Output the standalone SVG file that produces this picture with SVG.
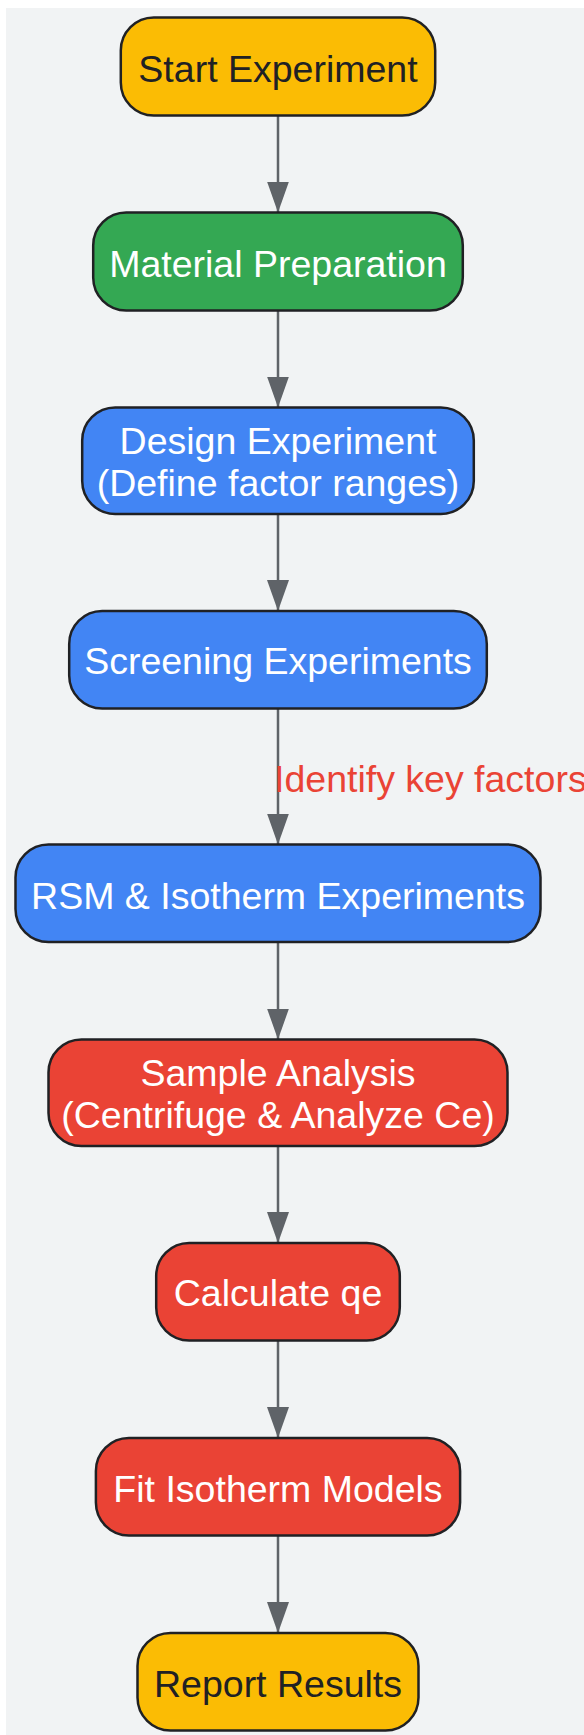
<svg xmlns="http://www.w3.org/2000/svg" width="584" height="1735" viewBox="0 0 584 1735">
  <style>
    .node rect { stroke: #202124; stroke-width: 2.5; }
    .yellow rect { fill: #FBBC04; }
    .green rect { fill: #34A853; }
    .blue rect { fill: #4285F4; }
    .red rect { fill: #EA4335; }
    .node text { font-family: "Liberation Sans", Arial, sans-serif; font-size: 37.5px; text-anchor: middle; fill: #FFFFFF; }
    .yellow text { fill: #202124; }
    .edge { stroke: #5F6368; stroke-width: 2.5; fill: none; }
    .label { font-family: "Liberation Sans", Arial, sans-serif; font-size: 37.5px; fill: #EA4335; }
  </style>
  <defs>
    <marker id="arrow" viewBox="0 0 31 22" refX="31" refY="11" markerWidth="31" markerHeight="22" markerUnits="userSpaceOnUse" orient="auto">
      <path d="M0,0 L31,11 L0,22 Z" fill="#5F6368"/>
    </marker>
  </defs>
  <rect x="6" y="8" width="578" height="1727" fill="#F1F3F4"/>

  <g id="connectors">
    <line class="edge" x1="278" y1="115.5" x2="278" y2="212.5" marker-end="url(#arrow)"/>
    <line class="edge" x1="278" y1="310.5" x2="278" y2="407.5" marker-end="url(#arrow)"/>
    <line class="edge" x1="278" y1="514" x2="278" y2="611" marker-end="url(#arrow)"/>
    <line class="edge" x1="278" y1="708.5" x2="278" y2="844.5" marker-end="url(#arrow)"/>
    <line class="edge" x1="278" y1="942" x2="278" y2="1039.5" marker-end="url(#arrow)"/>
    <line class="edge" x1="278" y1="1146" x2="278" y2="1243" marker-end="url(#arrow)"/>
    <line class="edge" x1="278" y1="1340.5" x2="278" y2="1438" marker-end="url(#arrow)"/>
    <line class="edge" x1="278" y1="1535.5" x2="278" y2="1633" marker-end="url(#arrow)"/>
    <text class="label" x="274" y="791.5">Identify key factors</text>
  </g>

  <g id="start" class="node yellow">
    <rect x="120.8" y="17.5" width="314.4" height="98" rx="33" ry="33"/>
    <text x="278" y="81.5">Start Experiment</text>
  </g>
  <g id="material" class="node green">
    <rect x="93.2" y="212.5" width="369.6" height="98" rx="33" ry="33"/>
    <text x="278" y="276.5">Material Preparation</text>
  </g>
  <g id="design" class="node blue">
    <rect x="82.2" y="407.5" width="391.6" height="106.5" rx="33" ry="33"/>
    <text x="278" y="453.5">Design Experiment</text>
    <text x="278" y="495.5">(Define factor ranges)</text>
  </g>
  <g id="screening" class="node blue">
    <rect x="69.2" y="611" width="417.6" height="97.5" rx="33" ry="33"/>
    <text x="278" y="674">Screening Experiments</text>
  </g>
  <g id="rsm" class="node blue">
    <rect x="15.5" y="844.5" width="525" height="97.5" rx="33" ry="33"/>
    <text x="278" y="908.5">RSM &amp; Isotherm Experiments</text>
  </g>
  <g id="sample" class="node red">
    <rect x="48.5" y="1039.5" width="459" height="106.5" rx="33" ry="33"/>
    <text x="278" y="1085.5">Sample Analysis</text>
    <text x="278" y="1128">(Centrifuge &amp; Analyze Ce)</text>
  </g>
  <g id="calculate" class="node red">
    <rect x="156.2" y="1243" width="243.6" height="97.5" rx="33" ry="33"/>
    <text x="278" y="1305.5">Calculate qe</text>
  </g>
  <g id="fit" class="node red">
    <rect x="95.9" y="1438" width="364.2" height="97.5" rx="33" ry="33"/>
    <text x="278" y="1501.5">Fit Isotherm Models</text>
  </g>
  <g id="report" class="node yellow">
    <rect x="137.5" y="1633" width="281" height="97.5" rx="33" ry="33"/>
    <text x="278" y="1696.5">Report Results</text>
  </g>
</svg>
